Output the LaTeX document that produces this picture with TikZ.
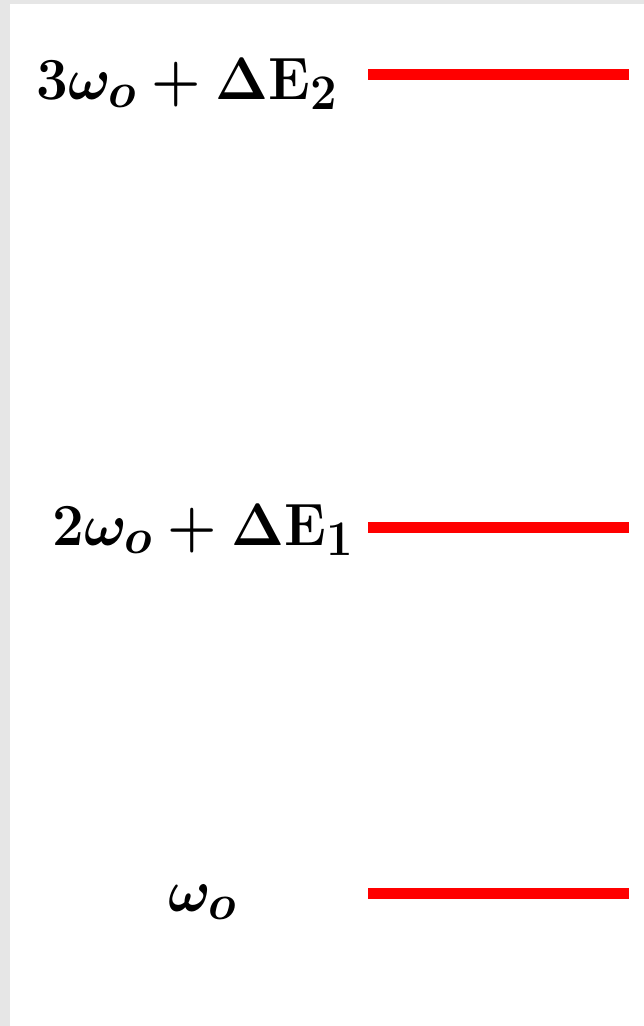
\documentclass[tikz,border=0pt]{standalone}
\usepackage{amsmath,bm}
\definecolor{bordergray}{HTML}{E6E6E6}
\definecolor{levelred}{HTML}{FF0000}
\newcommand{\biglabel}[1]{\scalebox{2.27}[2.4]{\fontsize{24.88}{30}\selectfont\boldmath$#1$}}
\tikzset{
  level/.style={draw=levelred, line width=11pt},
  lbl/.style={inner sep=0pt},
}
\begin{document}
\begin{tikzpicture}[x=1pt,y=-1pt]
\useasboundingbox (0,0) rectangle (644,1026);
\fill[bordergray] (0,0) rectangle (644,1026);
\fill[white] (10,4) rectangle (644,1026);
\coordinate (l3a) at (368,74.5); \coordinate (l3b) at (629,74.5);
\coordinate (l2a) at (368,527); \coordinate (l2b) at (629,527);
\coordinate (l1a) at (368,893.5); \coordinate (l1b) at (629,893.5);
\draw[level] (l3a) -- (l3b);
\draw[level] (l2a) -- (l2b);
\draw[level] (l1a) -- (l1b);
\node[lbl, anchor=base east] (t3) at (338,99) {\biglabel{3\omega_{o}+\Delta\mathbf{E}_{\mathbf{2}}}};
\node[lbl, anchor=base east] (t2) at (354,545) {\biglabel{2\omega_{o}+\Delta\mathbf{E}_{\mathbf{1}}}};
\node[lbl, anchor=base west] (t1) at (168,911) {\biglabel{\omega_{o}}};
\end{tikzpicture}
\end{document}
